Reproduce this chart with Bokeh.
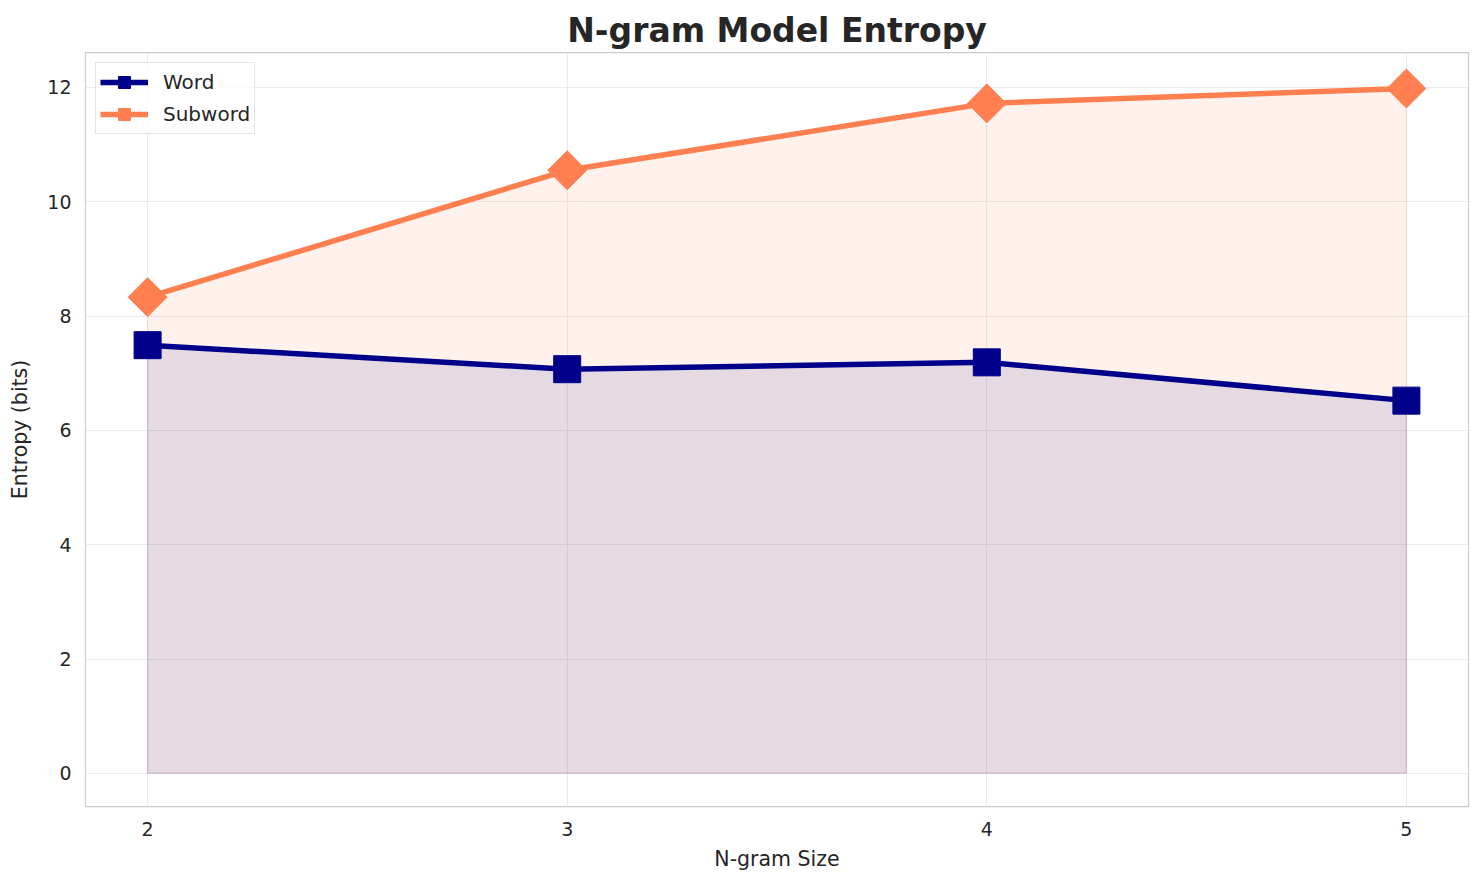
import numpy as np
from bokeh.plotting import figure
from bokeh.models import Range1d, FixedTicker, Legend, LegendItem
from bokeh.embed import file_html
from bokeh.resources import INLINE

ngram = [2, 3, 4, 5]
word_entropy = [7.49, 7.07, 7.19, 6.52]
subword_entropy = [8.33, 10.55, 11.72, 11.98]
x_ticks = [2, 3, 4, 5]
y_ticks = [0, 2, 4, 6, 8, 10, 12]

WORD_C = "#00008b"
SUB_C = "#ff7f50"
TXT = "#262626"
FONT = "DejaVu Sans"

p = figure(width=1476, height=877, output_backend="svg", toolbar_location=None,
           x_range=Range1d(1.852, 5.148), y_range=Range1d(-0.58, 12.61),
           min_border_left=85, min_border_right=8, min_border_top=52, min_border_bottom=71,
           title="N-gram Model Entropy")

p.title.align = "center"
p.title.text_font = FONT
p.title.text_font_size = "33px"
p.title.text_font_style = "bold"
p.title.text_color = TXT
p.title.standoff = 6

p.outline_line_color = "#cccccc"
p.outline_line_width = 1.25
p.background_fill_color = "white"

for g in (p.xgrid, p.ygrid):
    g.grid_line_color = "#ebebeb"
    g.grid_line_width = 1

p.xaxis.ticker = FixedTicker(ticks=x_ticks)
p.yaxis.ticker = FixedTicker(ticks=y_ticks)
for ax in (p.xaxis, p.yaxis):
    ax.axis_line_color = None
    ax.major_tick_line_color = None
    ax.minor_tick_line_color = None
    ax.major_tick_out = 0
    ax.major_label_text_font = FONT
    ax.major_label_text_font_size = "19px"
    ax.major_label_text_color = TXT
    ax.axis_label_text_font = FONT
    ax.axis_label_text_font_size = "20.5px"
    ax.axis_label_text_font_style = "normal"
    ax.axis_label_text_color = TXT
p.xaxis.axis_label = "N-gram Size"
p.yaxis.axis_label = "Entropy (bits)"
p.xaxis.major_label_standoff = 15
p.yaxis.major_label_standoff = 14
p.xaxis.axis_label_standoff = 8
p.yaxis.axis_label_standoff = 12

zeros = [0] * len(ngram)
# filled areas (fill_between style)
p.patch(ngram + ngram[::-1], subword_entropy + zeros[::-1], fill_color=SUB_C, fill_alpha=0.1,
        line_color=SUB_C, line_alpha=0.1, line_width=1.5)
p.patch(ngram + ngram[::-1], word_entropy + zeros[::-1], fill_color=WORD_C, fill_alpha=0.1,
        line_color=WORD_C, line_alpha=0.1, line_width=1.5)

wl = p.line(ngram, word_entropy, line_color=WORD_C, line_width=5.5)
ws = p.scatter(ngram, word_entropy, marker="square", size=27, fill_color=WORD_C, line_color=WORD_C)
sl = p.line(ngram, subword_entropy, line_color=SUB_C, line_width=5.5)
ss = p.scatter(ngram, subword_entropy, marker="square", size=27.5, angle=np.pi / 4,
               fill_color=SUB_C, line_color=SUB_C)

legend = Legend(items=[LegendItem(label="Word", renderers=[wl, ws]),
                       LegendItem(label="Subword", renderers=[sl, ss])],
                location="top_left")
legend.margin = 10
legend.padding = 4
legend.spacing = 2
legend.glyph_width = 48
legend.glyph_height = 30
legend.label_height = 30
legend.label_standoff = 15
legend.label_text_font = FONT
legend.label_text_font_size = "20px"
legend.label_text_color = TXT
legend.border_line_color = "#cccccc"
legend.border_line_width = 1.25
legend.background_fill_alpha = 0.8
p.add_layout(legend)

open("out.html", "w").write(file_html(p, INLINE))
